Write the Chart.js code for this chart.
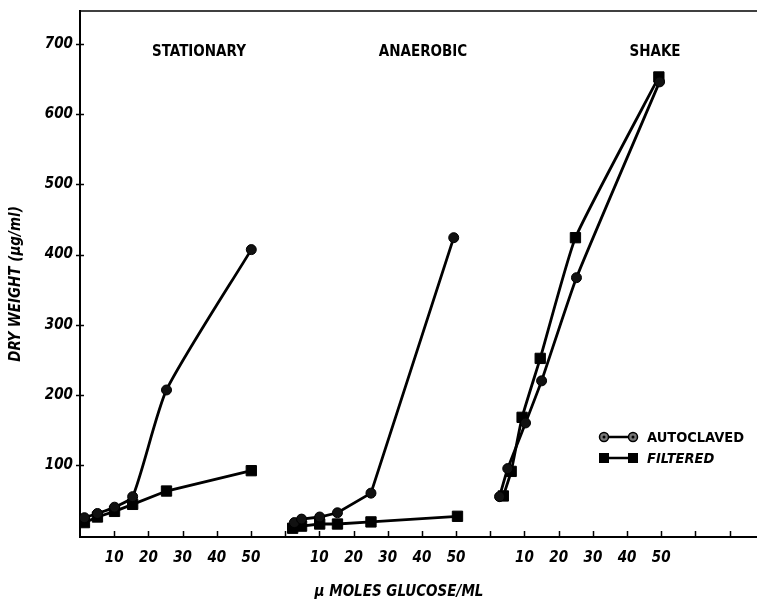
<!DOCTYPE html>
<html>
<head>
<meta charset="utf-8">
<script src="https://cdn.jsdelivr.net/npm/chart.js@4.4.1/dist/chart.umd.min.js"></script>
<style>
  html, body { margin: 0; padding: 0; background: #fff; }
  canvas { display: block; }
</style>
</head>
<body>
<canvas id="grafico" width="757" height="603"></canvas>
<script>
/* Peso seco vs. glucosa — tres condiciones de cultivo en un solo eje x */

// Cada panel ocupa 60 unidades del eje x (0..60, 60..120, 120..180)
const PANELES = ['STATIONARY', 'ANAEROBIC', 'SHAKE'];
const ANCHO_PANEL = 60;

// Etiquetas del eje x (se repiten en cada panel) y del eje y
const ETIQUETAS_X = [10, 20, 30, 40, 50];
const MARCAS_X = [10, 20, 30, 40, 50, 60, 70, 80, 90, 100, 110, 120, 130, 140, 150, 160, 170, 180, 190];
const MARCAS_Y = [100, 200, 300, 400, 500, 600, 700];

// µmoles glucosa/ml (x) y peso seco µg/ml (y)
const statAutoX = [1.3, 5.1, 10.1, 15.4, 25.3, 50.1];
const statAutoY = [25, 31, 40, 55, 207, 407];
const statFiltX = [1.3, 5.1, 10.1, 15.4, 25.3, 50.1];
const statFiltY = [18, 26, 34, 44, 63, 92];

const anaeAutoX = [2.7, 4.8, 10.1, 15.3, 25.1, 49.3];
const anaeAutoY = [18, 23, 26, 32, 60, 424];
const anaeFiltX = [2.2, 4.8, 10.1, 15.3, 25.1, 50.4];
const anaeFiltY = [10, 13, 16, 16, 19, 27];

const shakAutoX = [2.7, 5.1, 10.3, 15.0, 25.2, 49.5];
const shakAutoY = [55, 95, 160, 220, 367, 646];
const shakFiltX = [3.8, 6.1, 9.3, 14.6, 24.9, 49.3];
const shakFiltY = [56, 91, 168, 252, 424, 653];

const FUENTE = "'DejaVu Sans Condensed', 'DejaVu Sans', sans-serif";

// Convierte x local del panel a x global
function puntos(xs, ys, panel) {
  return xs.map((x, i) => ({ x: x + panel * ANCHO_PANEL, y: ys[i] }));
}

function serieAuto(data, tension) {
  return {
    label: 'AUTOCLAVED',
    data,
    borderColor: '#000',
    borderWidth: 2.8,
    tension,
    pointStyle: 'circle',
    pointRadius: 5,
    pointBackgroundColor: '#111',
    pointBorderColor: '#000',
    pointBorderWidth: 1,
  };
}

function serieFilt(data, tension) {
  return {
    label: 'FILTERED',
    data,
    borderColor: '#000',
    borderWidth: 2.8,
    tension,
    pointStyle: 'rect',
    pointRadius: 7.3,
    pointBackgroundColor: '#000',
    pointBorderColor: '#000',
    pointBorderWidth: 1,
  };
}

// Marcas de ejes, títulos de panel, leyenda y títulos de ejes
const decoracion = {
  id: 'decoracion',
  afterDraw(chart) {
    const { ctx, chartArea: area, scales: { x, y } } = chart;
    ctx.save();
    ctx.strokeStyle = '#000';
    ctx.fillStyle = '#000';

    // borde superior
    ctx.lineWidth = 1.5;
    ctx.beginPath();
    ctx.moveTo(area.left, area.top);
    ctx.lineTo(area.right, area.top);
    ctx.stroke();

    // marcas del eje x, hacia adentro
    ctx.lineWidth = 1.5;
    ctx.beginPath();
    x.ticks.forEach(t => {
      const px = Math.round(x.getPixelForValue(t.value)) + 0.5;
      ctx.moveTo(px, area.bottom);
      ctx.lineTo(px, area.bottom - 6);
    });
    // marcas del eje y, cruzando el eje
    y.ticks.forEach(t => {
      const py = Math.round(y.getPixelForValue(t.value)) + 0.5;
      ctx.moveTo(area.left - 4, py);
      ctx.lineTo(area.left + 4, py);
    });
    ctx.stroke();

    // títulos de panel
    ctx.font = `bold 15px ${FUENTE}`;
    ctx.textAlign = 'center';
    ctx.textBaseline = 'middle';
    const centros = [199, 423, 655];
    PANELES.forEach((p, i) => ctx.fillText(p, centros[i], 52));

    // leyenda
    ctx.lineWidth = 2.5;
    ctx.beginPath();
    ctx.moveTo(604, 437); ctx.lineTo(633, 437);
    ctx.moveTo(604, 458); ctx.lineTo(633, 458);
    ctx.stroke();
    [604, 633].forEach(cx => {
      ctx.beginPath();
      ctx.arc(cx, 437, 4.5, 0, Math.PI * 2);
      ctx.fillStyle = '#777';
      ctx.fill();
      ctx.lineWidth = 1.5;
      ctx.stroke();
      ctx.fillStyle = '#000';
      ctx.beginPath();
      ctx.arc(cx, 437, 1.5, 0, Math.PI * 2);
      ctx.fill();
      ctx.fillRect(cx - 5, 453, 10, 10);
    });
    ctx.textAlign = 'left';
    ctx.font = `bold 14.5px ${FUENTE}`;
    ctx.fillText('AUTOCLAVED', 647, 438);
    ctx.font = `italic bold 14.5px ${FUENTE}`;
    ctx.fillText('FILTERED', 647, 459);

    // títulos de ejes
    ctx.textAlign = 'center';
    ctx.font = `italic bold 15px ${FUENTE}`;
    ctx.fillText('\u03bc MOLES GLUCOSE/ML', 399, 592);
    ctx.translate(16, 284);
    ctx.rotate(-Math.PI / 2);
    ctx.fillText('DRY WEIGHT (\u03bcg/ml)', 0, 0);
    ctx.restore();
  },
};

const datasets = [
  serieAuto(puntos(statAutoX, statAutoY, 0), 0.2),
  serieFilt(puntos(statFiltX, statFiltY, 0), 0),
  serieAuto(puntos(anaeAutoX, anaeAutoY, 1), 0),
  serieFilt(puntos(anaeFiltX, anaeFiltY, 1), 0),
  serieAuto(puntos(shakAutoX, shakAutoY, 2), 0.15),
  serieFilt(puntos(shakFiltX, shakFiltY, 2), 0.15),
];

const fuenteTicks = { family: FUENTE, size: 15, weight: 'bold', style: 'italic' };

new Chart(document.getElementById('grafico'), {
  type: 'line',
  data: { datasets },
  options: {
    responsive: false,
    animation: false,
    layout: { autoPadding: false, padding: { top: 11, left: 0, right: 0, bottom: 0 } },
    plugins: {
      legend: { display: false },
      tooltip: { enabled: false },
    },
    scales: {
      x: {
        type: 'linear',
        min: 0,
        max: 198,
        afterBuildTicks: (s) => { s.ticks = MARCAS_X.map(v => ({ value: v })); },
        afterFit: (s) => { s.height = 66; s.paddingLeft = 0; s.paddingRight = 0; },
        grid: { display: true, drawOnChartArea: false, drawTicks: false },
        border: { display: true, color: '#000', width: 2 },
        ticks: {
          autoSkip: false,
          maxRotation: 0,
          minRotation: 0,
          padding: 12,
          color: '#000',
          font: fuenteTicks,
          callback: (v) => {
            if (v >= PANELES.length * ANCHO_PANEL) return '';
            const r = Math.round(v) % ANCHO_PANEL;
            return ETIQUETAS_X.includes(r) ? String(r) : '';
          },
        },
      },
      y: {
        type: 'linear',
        min: -2.5,
        max: 747,
        afterBuildTicks: (s) => { s.ticks = MARCAS_Y.map(v => ({ value: v })); },
        afterFit: (s) => { s.width = 80; s.paddingTop = 0; s.paddingBottom = 0; },
        grid: { display: true, drawOnChartArea: false, drawTicks: false },
        border: { display: true, color: '#000', width: 2 },
        ticks: {
          padding: 7,
          color: '#000',
          font: fuenteTicks,
          callback: (v) => String(v),
        },
      },
    },
  },
  plugins: [decoracion],
});
</script>
</body>
</html>
